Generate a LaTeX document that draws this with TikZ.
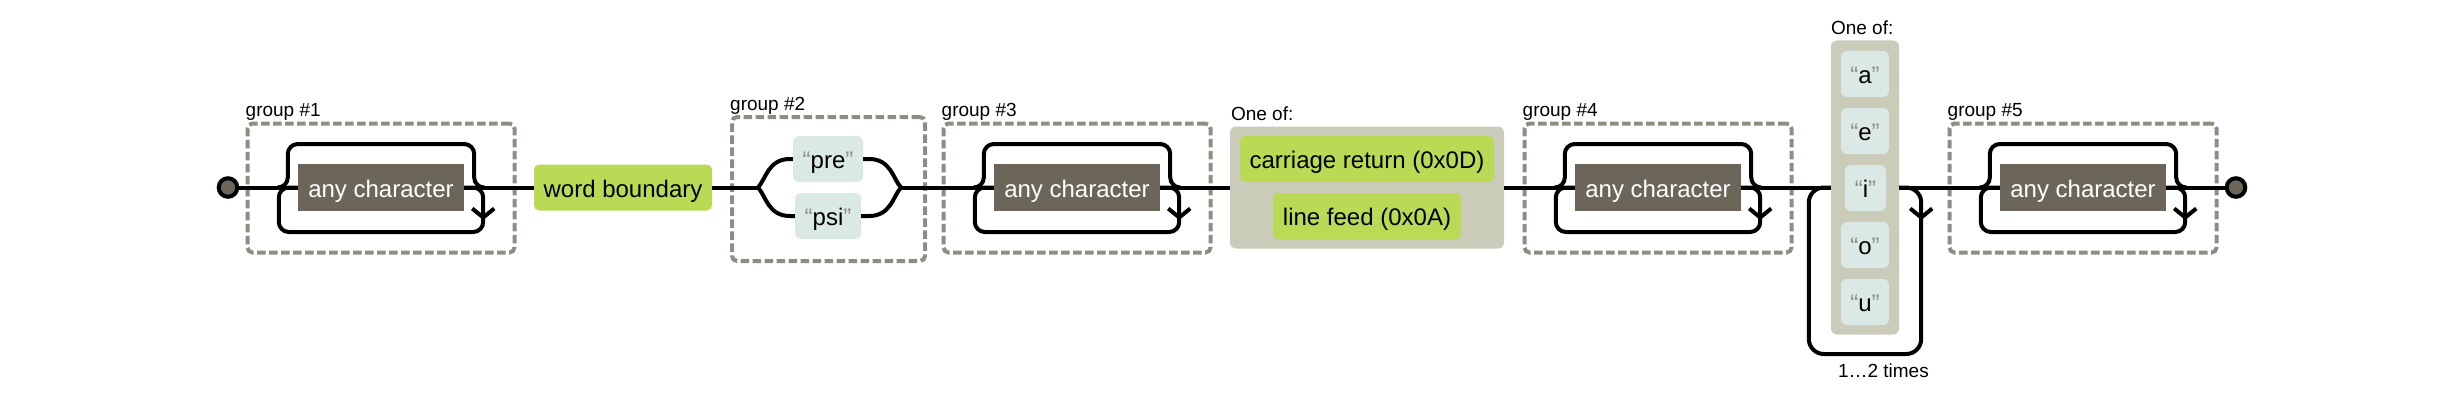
\documentclass[tikz,border=0pt]{standalone}
\usepackage{fontspec}
\setmainfont{Liberation Sans}
\usetikzlibrary{calc}
\definecolor{anychar}{HTML}{6B6659}
\definecolor{anchorc}{HTML}{BADA55}
\definecolor{literalc}{HTML}{DAE9E5}
\definecolor{charsetc}{HTML}{CBCBBA}
\definecolor{groupc}{HTML}{908C83}
\newcommand\fsmain{\fontsize{24pt}{28pt}\selectfont}
\newcommand\fslabel{\fontsize{19pt}{22pt}\selectfont}
\newcommand\rxquote[1]{{\color{groupc}“}#1{\color{groupc}”}}
\begin{document}
\begin{tikzpicture}[x=1pt,y=-1pt,
  conn/.style={draw=black, line width=4pt},
  txtbox/.style={inner sep=0pt, font=\fsmain, text height=23pt, text depth=4pt, minimum height=46pt},
  acbox/.style={txtbox, fill=anychar, text=white, minimum width=166pt, minimum height=47pt},
  greenbox/.style={txtbox, fill=anchorc, rounded corners=5pt},
  litbox/.style={txtbox, fill=literalc, rounded corners=6pt},
  charsetbg/.style={fill=charsetc, rounded corners=6pt, inner sep=0pt},
  grpbox/.style={draw=groupc, line width=4pt, dash pattern=on 8.5pt off 3.5pt, rounded corners=5pt, inner sep=0pt},
  lbl/.style={font=\fslabel, anchor=base west, inner sep=0pt},
  dot/.style={circle, fill=anychar, draw=black, line width=4pt, minimum size=18.6pt, inner sep=0pt}]
\useasboundingbox (0,0) rectangle (2462,412);
% group boxes
\node[grpbox, minimum width=267pt, minimum height=129pt] (g1) at (381,188) {};
\node[grpbox, minimum width=193pt, minimum height=144pt] (g2) at (828.5,189) {};
\node[grpbox, minimum width=267pt, minimum height=129pt] (g3) at (1077,188) {};
\node[grpbox, minimum width=267pt, minimum height=129pt] (g4) at (1658,188) {};
\node[grpbox, minimum width=267pt, minimum height=129pt] (g5) at (2083,188) {};
\node[lbl] (g1l) at ($(g1.north west)+(0,-5)$) {group \#1};
\node[lbl] (g2l) at ($(g2.north west)+(0,-5)$) {group \#2};
\node[lbl] (g3l) at ($(g3.north west)+(0,-5)$) {group \#3};
\node[lbl] (g4l) at ($(g4.north west)+(0,-5)$) {group \#4};
\node[lbl] (g5l) at ($(g5.north west)+(0,-5)$) {group \#5};
% nodes
\node[dot] (start) at (228,187.5) {};
\node[acbox] (ac1) at (381,187.5) {any character};
\node[greenbox, minimum width=178pt] (wb) at (623,187.5) {word boundary};
\node[litbox, minimum width=70pt] (pre) at (828,159) {\rxquote{pre}};
\node[litbox, minimum width=66pt] (psi) at (828,216) {\rxquote{psi}};
\node[acbox] (ac3) at (1077,187.5) {any character};
\node[charsetbg, minimum width=274pt, minimum height=122pt] (cs1) at (1367,187.5) {};
\node[lbl] (cs1l) at ($(cs1.north west)+(1,-6)$) {One of:};
\node[greenbox, minimum width=254pt] (cr) at (1367,159) {carriage return (0x0D)};
\node[greenbox, minimum width=188pt] (lf) at (1367,216) {line feed (0x0A)};
\node[acbox] (ac4) at (1658,187.5) {any character};
\node[charsetbg, minimum width=68pt, minimum height=294pt] (cs2) at (1865,187.5) {};
\node[lbl] (cs2l) at ($(cs2.north west)+(0,-6)$) {One of:};
\node[litbox, minimum width=48pt] (va) at (1865,74) {\rxquote{a}};
\node[litbox, minimum width=48pt] (ve) at (1865,131) {\rxquote{e}};
\node[litbox, minimum width=41pt] (vi) at (1865.5,188) {\rxquote{i}};
\node[litbox, minimum width=48pt] (vo) at (1865,245) {\rxquote{o}};
\node[litbox, minimum width=48pt] (vu) at (1865,302) {\rxquote{u}};
\node[acbox] (ac5) at (2083,187.5) {any character};
\node[dot] (end) at (2236,187.5) {};
\node[lbl, anchor=base east] (rep) at (1929,377) {1…2 times};
\coordinate (split) at (758,187.5);
\coordinate (merge) at (901,187.5);
% main line
\draw[conn] (start.east) -- (ac1.west);
\draw[conn] (ac1.east) -- (wb.west);
\draw[conn] (wb.east) -- (split);
\draw[conn] (merge) -- (ac3.west);
\draw[conn] (ac3.east) -- (cs1.west);
\draw[conn] (cs1.east) -- (ac4.west);
\draw[conn] (ac4.east) -- (cs2.west);
\draw[conn] (cs2.east) -- (ac5.west);
\draw[conn] (ac5.east) -- (end.west);
% alternation
\draw[conn] (split) .. controls (766,179) and (768,159) .. (790,159) -- (pre.west);
\draw[conn] (split) .. controls (766,196) and (768,216) .. (790,216) -- (psi.west);
\draw[conn] (pre.east) -- (869,159) .. controls (891,159) and (893,179) .. (merge);
\draw[conn] (psi.east) -- (869,216) .. controls (891,216) and (893,196) .. (merge);
% repetitions (skip + loop)
\foreach \n in {ac1,ac3,ac4,ac5}{
  \draw[conn, rounded corners=10pt] ($(\n.west)+(-20,0)$) -- ++(10,0) -- ++(0,-43.5) -- ($(\n.east)+(10,-43.5)$) -- ++(0,43.5) -- ++(10,0);
  \draw[conn, rounded corners=10pt] (\n.east) -- ++(19,0) -- ++(0,44.5) -- ($(\n.west)+(-19,44.5)$) -- ++(0,-44.5) -- (\n.west);
  \draw[conn] ($(\n.east)+(8,21)$) -- ++(11,9) -- ++(11,-9);
}
% vowel loop
\draw[conn, rounded corners=15pt] (cs2.east) -- ++(22,0) -- ++(0,166.5) -- ($(cs2.west)+(-22,166.5)$) -- ++(0,-166.5) -- (cs2.west);
\draw[conn] ($(cs2.east)+(11,21)$) -- ++(11,9) -- ++(11,-9);
\end{tikzpicture}
\end{document}
